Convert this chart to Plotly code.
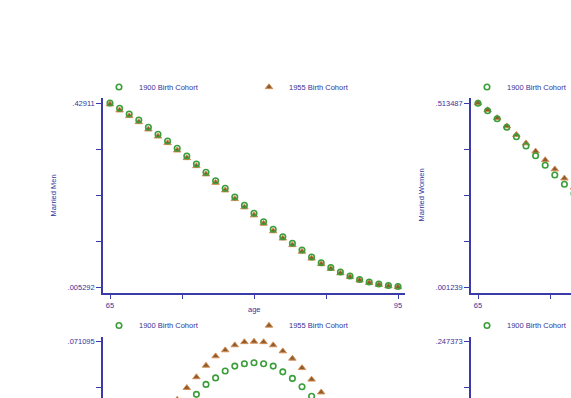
import plotly.graph_objects as go

# ---------------- data ----------------
age = list(range(65, 96))

# top-left: Married Men
men_1900 = [0.42911, 0.4169, 0.4038, 0.3900, 0.3731, 0.3570, 0.3416, 0.3248, 0.3070, 0.2886,
            0.2695, 0.2501, 0.2326, 0.2126, 0.1935, 0.1750, 0.1557, 0.1382, 0.1212, 0.1059,
            0.0905, 0.0744, 0.0613, 0.0502, 0.0398, 0.0306, 0.0226, 0.0168, 0.0122, 0.0087, 0.0064]
men_1955 = [0.4262, 0.4123, 0.3992, 0.3853, 0.3685, 0.3523, 0.3370, 0.3201, 0.3024, 0.2840,
            0.2650, 0.2456, 0.2281, 0.2081, 0.1891, 0.1706, 0.1514, 0.1340, 0.1172, 0.1020,
            0.0868, 0.0710, 0.0582, 0.0473, 0.0372, 0.0283, 0.0206, 0.0150, 0.0106, 0.0074, 0.005292]

# top-right: Married Women
women_1900 = [0.5128, 0.4920, 0.4698, 0.4458, 0.4197, 0.3938, 0.3665, 0.3403, 0.3130, 0.2871,
              0.2612, 0.2358, 0.2110, 0.1870, 0.1640, 0.1420, 0.1214, 0.1022, 0.0846, 0.0686,
              0.0544, 0.0420, 0.0315, 0.0228, 0.0160, 0.0108, 0.0070, 0.0044, 0.0027, 0.0017, 0.001239]
women_1955 = [0.513487, 0.4940, 0.4717, 0.4489, 0.4250, 0.4016, 0.3790, 0.3548, 0.3292, 0.3038,
              0.2786, 0.2538, 0.2292, 0.2050, 0.1815, 0.1590, 0.1374, 0.1170, 0.0980, 0.0806,
              0.0650, 0.0512, 0.0394, 0.0295, 0.0215, 0.0152, 0.0104, 0.0069, 0.0045, 0.0029, 0.0019]

# bottom-left
bl_1900 = [0.0130, 0.0175, 0.0220, 0.0268, 0.0315, 0.0362, 0.0405, 0.0442, 0.0474, 0.0509,
           0.0547, 0.0572, 0.0598, 0.0617, 0.0626, 0.0630, 0.0626, 0.0617, 0.0595, 0.0570,
           0.0538, 0.0502, 0.0463, 0.0420, 0.0375, 0.0328, 0.0280, 0.0232, 0.0184, 0.0138, 0.0095]
bl_1955 = [0.0052, 0.0118, 0.0185, 0.0252, 0.0317, 0.0378, 0.0436, 0.0489, 0.0534, 0.0575,
           0.0619, 0.0655, 0.0678, 0.0697, 0.0709, 0.071095, 0.0709, 0.0697, 0.0674, 0.0646,
           0.0610, 0.0566, 0.0517, 0.0470, 0.0418, 0.0362, 0.0302, 0.0236, 0.0168, 0.0090, 0.000812]

# bottom-right
br_1900 = [0.0387, 0.0452, 0.0524, 0.0603, 0.0690, 0.0784, 0.0885, 0.0992, 0.1104, 0.1220,
           0.1338, 0.1456, 0.1572, 0.1684, 0.1790, 0.1888, 0.1976, 0.2052, 0.2115, 0.2163,
           0.2196, 0.2212, 0.2211, 0.2193, 0.2158, 0.2108, 0.2043, 0.1966, 0.1879, 0.1784, 0.1683]
br_1955 = [0.0412, 0.0485, 0.0566, 0.0655, 0.0752, 0.0858, 0.0971, 0.1091, 0.1216, 0.1345,
           0.1476, 0.1607, 0.1736, 0.1860, 0.1977, 0.2086, 0.2184, 0.2269, 0.2339, 0.2393,
           0.2430, 0.2452, 0.247373, 0.2466, 0.2441, 0.2401, 0.2347, 0.2280, 0.2202, 0.2114, 0.2018]

cohort_names = ["1900 Birth Cohort", "1955 Birth Cohort"]
x_tick_labels = ["65", "", "", "", "95"]
y_titles = ["Married Men", "Married Women"]
x_title = "age"

# ---------------- styling / geometry ----------------
W, H = 571, 398
FONT = "Liberation Sans"
FS = 7.5
TXT = "#34349c"
AXC = "#3a3aa8"
GREEN = "#3a9e3a"
TRI_FILL = "#8e5b2c"
TRI_LINE = "#d48e56"

PANEL_W, PANEL_H = 302, 195
PAD_X, PAD_TOP, PAD_BOT = 7, 5, 6
PX_PER_YEAR = (PANEL_W - 2 * PAD_X) / (age[-1] - age[0])
SPAN_Y = PANEL_H - PAD_TOP - PAD_BOT

panels = [
    dict(x0=103, y0=98, a=men_1900, b=men_1955, showx=True, lx=119, ly=87, tri=True),
    dict(x0=471, y0=98, a=women_1900, b=women_1955, showx=True, lx=487, ly=87, tri=False),
    dict(x0=103, y0=336.5, a=bl_1900, b=bl_1955, showx=False, lx=119, ly=325.5, tri=True),
    dict(x0=471, y0=336.5, a=br_1900, b=br_1955, showx=False, lx=487, ly=325.5, tri=False),
]


def stata_label(v):
    s = f"{v:.6g}"
    if s.startswith("0."):
        s = s[1:]
    return s


fig = go.Figure()
layout = dict(
    width=W, height=H, margin=dict(l=0, r=0, t=0, b=0, autoexpand=False),
    paper_bgcolor="white", plot_bgcolor="white",
    font=dict(family=FONT, size=FS, color=TXT),
    showlegend=True,
)

for i, p in enumerate(panels):
    k = "" if i == 0 else str(i + 1)
    lg = "legend" if i == 0 else f"legend{i + 1}"
    xa, ya = f"x{k}", f"y{k}"
    fig.add_trace(go.Scatter(
        x=age, y=p["b"], mode="markers", name=cohort_names[1],
        xaxis=xa, yaxis=ya, legend=lg, legendrank=2, showlegend=p["tri"],
        marker=dict(symbol="triangle-up", size=6.5, color=TRI_FILL,
                    line=dict(color=TRI_LINE, width=1)),
    ))
    fig.add_trace(go.Scatter(
        x=age, y=p["a"], mode="markers", name=cohort_names[0],
        xaxis=xa, yaxis=ya, legend=lg, legendrank=1,
        marker=dict(symbol="circle-open", size=5.5, color=GREEN, line=dict(width=1.6)),
    ))

    x0, y0 = p["x0"], p["y0"]
    vis_r = min(x0 + PANEL_W, W)
    vis_b = min(y0 + PANEL_H, H)
    xr = [age[0] - PAD_X / PX_PER_YEAR, age[0] + (vis_r - x0 - PAD_X) / PX_PER_YEAR]
    lo = min(p["a"] + p["b"])
    hi = max(p["a"] + p["b"])
    u = (hi - lo) / SPAN_Y
    yr = [hi - (vis_b - y0 - PAD_TOP) * u, hi + PAD_TOP * u]
    yt = [lo + j * (hi - lo) / 4 for j in range(5)]
    ytxt = [stata_label(lo), "", "", "", stata_label(hi)]
    xt = [age[0] + j * (age[-1] - age[0]) / 4 for j in range(5)]

    layout[f"xaxis{k}"] = dict(
        domain=[x0 / W, vis_r / W], range=xr, anchor=ya,
        showgrid=False, zeroline=False,
        showline=p["showx"], linecolor=AXC, linewidth=1.6,
        ticks="outside" if p["showx"] else "", ticklen=4, tickwidth=1.2, tickcolor=AXC,
        tickvals=xt, ticktext=x_tick_labels, showticklabels=p["showx"],
        tickfont=dict(size=FS, color=TXT, family=FONT),
    )
    layout[f"yaxis{k}"] = dict(
        domain=[1 - vis_b / H, 1 - y0 / H], range=yr, anchor=xa,
        showgrid=False, zeroline=False,
        showline=True, linecolor=AXC, linewidth=1.6,
        ticks="outside", ticklen=5, tickwidth=1.2, tickcolor=AXC,
        tickvals=yt, ticktext=ytxt,
        tickfont=dict(size=FS, color=TXT, family=FONT),
    )
    leg = dict(
        orientation="h", x=(p["lx"] - 20) / W, xanchor="left",
        y=1 - p["ly"] / H, yanchor="middle",
        bgcolor="rgba(0,0,0,0)", borderwidth=0,
        font=dict(size=FS, color=TXT, family=FONT),
        traceorder="normal", itemsizing="trace",
    )
    if p["tri"]:
        leg.update(entrywidth=105, entrywidthmode="pixels")
    layout[lg] = leg

annotations = [
    dict(text=y_titles[0], x=53 / W, y=1 - 195.5 / H, xref="paper", yref="paper",
         textangle=-90, showarrow=False, xanchor="center", yanchor="middle"),
    dict(text=y_titles[1], x=421 / W, y=1 - 195.5 / H, xref="paper", yref="paper",
         textangle=-90, showarrow=False, xanchor="center", yanchor="middle"),
    dict(text=x_title, x=254 / W, y=1 - 309.5 / H, xref="paper", yref="paper",
         showarrow=False, xanchor="center", yanchor="middle"),
]
layout["annotations"] = annotations

fig.update_layout(**layout)
fig.write_html("out.html", config={"displayModeBar": False})
